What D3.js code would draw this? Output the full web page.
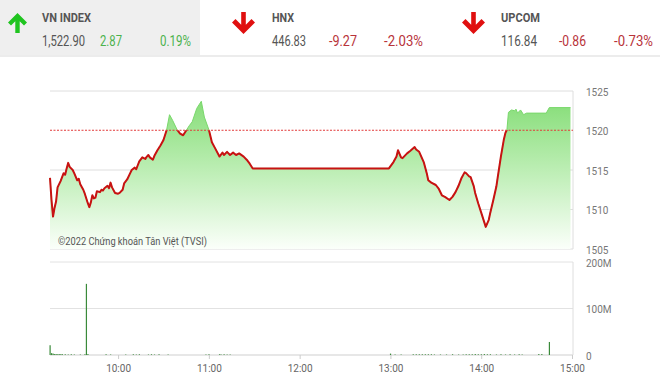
<!DOCTYPE html>
<html><head><meta charset="utf-8">
<script src="https://cdn.jsdelivr.net/npm/d3@7/dist/d3.min.js"></script>
<style>
html,body{margin:0;padding:0;background:#fff;}
svg{display:block;font-family:Roboto,"Noto Sans",sans-serif;}
</style></head>
<body><svg id="c" width="660" height="381"></svg>
<script>
// ---------------- data ----------------
const priceTimes = ["9:15","9:16","9:17","9:18","9:19","9:20","9:22","9:24","9:25","9:26","9:27","9:28","9:30","9:31","9:33","9:34","9:35","9:37","9:38","9:40","9:41","9:42","9:43","9:44","9:45","9:46","9:48","9:49","9:50","9:51","9:53","9:54","9:55","9:56","9:58","10:00","10:01","10:03","10:04","10:06","10:08","10:09","10:11","10:12","10:13","10:14","10:16","10:18","10:19","10:20","10:21","10:23","10:24","10:26","10:28","10:30","10:32","10:34","10:36","10:39","10:41","10:43","10:45","10:47","10:49","10:52","10:55","10:57","11:00","11:02","11:04","11:07","11:09","11:10","11:12","11:14","11:16","11:18","11:20","11:23","11:25","11:27","11:29","12:59","13:02","13:04","13:05","13:07","13:08","13:11","13:13","13:16","13:17","13:19","13:22","13:24","13:25","13:27","13:30","13:32","13:34","13:36","13:39","13:41","13:43","13:45","13:47","13:49","13:50","13:52","13:53","13:55","13:56","13:58","14:00","14:02","14:03","14:05","14:06","14:08","14:10","14:11","14:13","14:15","14:16","14:17","14:18","14:20","14:22","14:23","14:24","14:26","14:28","14:30","14:43","14:45","14:59"];
const priceValues = [1514.0,1511.2,1509.1,1510.2,1511.0,1512.8,1513.6,1514.6,1514.4,1515.2,1515.9,1515.4,1515.0,1514.6,1513.7,1513.9,1513.2,1512.5,1512.0,1510.8,1510.3,1510.9,1511.8,1511.4,1511.5,1512.3,1512.2,1512.5,1512.4,1512.7,1513.0,1512.7,1513.4,1512.8,1512.1,1512.0,1512.1,1512.5,1513.3,1513.8,1514.6,1515.0,1515.3,1515.1,1515.6,1516.1,1516.6,1516.4,1516.7,1516.9,1516.6,1516.3,1516.8,1517.5,1518.1,1518.8,1520.0,1522.0,1521.3,1520.1,1519.6,1519.4,1520.0,1520.6,1521.1,1522.8,1523.7,1521.7,1520.1,1518.5,1517.8,1516.7,1517.2,1516.9,1517.3,1516.9,1517.2,1516.9,1517.1,1516.7,1516.3,1515.8,1515.2,1515.2,1516.0,1516.7,1517.5,1516.6,1516.5,1517.1,1517.4,1517.9,1517.6,1517.3,1516.0,1514.6,1513.7,1513.4,1513.1,1512.6,1511.8,1511.6,1511.2,1511.6,1512.2,1513.0,1514.0,1514.7,1514.6,1514.2,1514.1,1513.0,1512.1,1510.8,1509.6,1508.4,1507.8,1508.7,1509.6,1511.2,1512.9,1514.2,1516.7,1518.9,1519.7,1520.1,1522.3,1522.6,1522.5,1522.7,1522.2,1522.6,1522.0,1522.2,1522.2,1522.9,1522.9];
const refValue = 1520.03;
const priceTicks = [1505,1510,1515,1520,1525];

const volTimes = ["9:15","9:16","9:17","9:18","9:19","9:20","9:21","9:22","9:23","9:25","9:27","9:29","9:31","9:35","9:38","9:39","9:40","9:52","9:55","10:05","10:10","10:12","10:14","10:20","10:22","10:24","10:27","10:33","10:58","11:00","11:07","11:08","11:10","11:12","11:14","13:00","13:03","13:07","13:15","13:17","13:19","13:21","13:23","13:25","13:27","13:29","13:33","13:37","13:41","13:45","13:48","13:50","13:52","13:54","13:56","13:58","14:00","14:02","14:04","14:06","14:10","14:13","14:16","14:19","14:22","14:25","14:27","14:38","14:40","14:45"];
const volValues = [21,4,3,2,2,1.5,2,1.5,2,1.5,1,1.5,1,1,1.5,153,2,1.5,1,1,1.5,1,1.5,1,1.5,1,1.5,1,1,1.5,1.5,1,1.5,1,1,3,1,1,1.5,1.5,1.5,1.5,1.5,1.5,1.5,1,1,1,1.5,1,1,1.5,1.5,1.5,2,1.5,1.5,2,1.5,1.5,1,1.5,1,1.5,1,1.5,1,2,2,28];
const volTicks = [0,100,200];
const volTickLabels = ["0","100M","200M"];
const timeTicks = ["10:00","11:00","12:00","13:00","14:00","15:00"];

const headerNames = ["VN INDEX","HNX","UPCOM"];
const headerValues = ["1,522.90","446.83","116.84"];
const headerChanges = ["2.87","-9.27","-0.86"];
const headerPcts = ["0.19%","-2.03%","-0.73%"];
const headerUp = [true,false,false];
const watermark = "©2022 Chứng khoán Tân Việt (TVSI)";

// ---------------- setup ----------------
const svg = d3.select("#c");
const parse = d3.timeParse("%H:%M");
const L = 50, R = 572;
const x = d3.scaleTime().domain([parse("9:15"), parse("15:00")]).range([L, R]);
const y = d3.scaleLinear().domain([1505,1525]).range([249,91]);
const yv = d3.scaleLinear().domain([0,200]).range([355,262]);

// ---------------- header ----------------
svg.append("rect").attr("x",0).attr("y",0).attr("width",200).attr("height",55).attr("fill","#efefef");
svg.append("rect").attr("x",0).attr("y",55).attr("width",660).attr("height",2).attr("fill","#ececec");

const hx = [
  {arrow:8, name:42, nameW:49, val:42, valW:43, chg:100, chgW:22, pct:160, pctW:31},
  {arrow:232, name:272, nameW:22, val:272, valW:34, chg:329, chgW:28, pct:384, pctW:39},
  {arrow:462, name:501, nameW:39, val:501, valW:36, chg:559, chgW:27, pct:614, pctW:39}
];
headerNames.forEach((n,i)=>{
  const p = hx[i];
  const up = headerUp[i];
  const ax = p.arrow, col = up ? "#1fc41f" : "#e01010";
  let path;
  if (up) {
    path = `M${ax+9.5},13 L${ax+19},22.5 L${ax+16},25.5 L${ax+11.7},21.2 L${ax+11.7},33 L${ax+7.3},33 L${ax+7.3},21.2 L${ax+3},25.5 L${ax},22.5 Z`;
  } else {
    path = `M${ax+11.5},34 L${ax+23},22.5 L${ax+19.5},19 L${ax+13.8},24.7 L${ax+13.8},12 L${ax+9.2},12 L${ax+9.2},24.7 L${ax+3.5},19 L${ax},22.5 Z`;
  }
  svg.append("path").attr("d",path).attr("fill",col);
  svg.append("text").attr("x",p.name).attr("y",22).attr("font-size",12.5).attr("font-weight","bold")
     .attr("fill","#555").attr("textLength",p.nameW).attr("lengthAdjust","spacingAndGlyphs").text(n);
  svg.append("text").attr("x",p.val).attr("y",46).attr("font-size",14)
     .attr("fill","#555").attr("textLength",p.valW).attr("lengthAdjust","spacingAndGlyphs").text(headerValues[i]);
  const cc = up ? "#4cb24c" : "#b8333a";
  svg.append("text").attr("x",p.chg).attr("y",46).attr("font-size",14)
     .attr("fill",cc).attr("textLength",p.chgW).attr("lengthAdjust","spacingAndGlyphs").text(headerChanges[i]);
  svg.append("text").attr("x",p.pct).attr("y",46).attr("font-size",14)
     .attr("fill",cc).attr("textLength",p.pctW).attr("lengthAdjust","spacingAndGlyphs").text(headerPcts[i]);
});

// ---------------- price chart ----------------
const defs = svg.append("defs");
const grad = defs.append("linearGradient").attr("id","g").attr("gradientUnits","userSpaceOnUse")
  .attr("x1",0).attr("x2",0).attr("y1",y(1525)).attr("y2",y(1505));
grad.append("stop").attr("offset",0).attr("stop-color","#7fdb70");
grad.append("stop").attr("offset",0.45).attr("stop-color","#b6ecad");
grad.append("stop").attr("offset",1).attr("stop-color","#fbfffa");

defs.append("clipPath").attr("id","below").append("rect")
  .attr("x",0).attr("y",y(refValue)).attr("width",660).attr("height",300);

// grid
const gridG = svg.append("g");
priceTicks.forEach(t=>{
  if (t===1520) return;
  gridG.append("line").attr("x1",L).attr("x2",573).attr("y1",y(t)).attr("y2",y(t))
    .attr("stroke","#dedede").attr("stroke-width",1);
});
gridG.append("line").attr("x1",573).attr("x2",573).attr("y1",y(1525)).attr("y2",y(1505))
  .attr("stroke","#dedede");

const pdata = priceTimes.map((t,i)=>({t:parse(t), v:priceValues[i]}));
const area = d3.area().x(d=>x(d.t)).y0(y(1505)).y1(d=>y(d.v));
svg.append("path").datum(pdata).attr("d",area).attr("fill","url(#g)");

const line = d3.line().x(d=>x(d.t)).y(d=>y(d.v));
svg.append("path").datum(pdata).attr("d",line).attr("fill","none")
  .attr("stroke","#79d86b").attr("stroke-width",1);
svg.append("path").datum(pdata).attr("d",line).attr("fill","none")
  .attr("stroke","#c81212").attr("stroke-width",2).attr("stroke-linejoin","round")
  .attr("clip-path","url(#below)");

// reference dashed line
svg.append("line").attr("x1",L).attr("x2",573).attr("y1",y(refValue)).attr("y2",y(refValue))
  .attr("stroke","#e23a3a").attr("stroke-width",1).attr("stroke-dasharray","2,1.5");

// y axis labels
const yAxis = d3.axisRight(y).tickValues(priceTicks).tickSize(0).tickPadding(0).tickFormat(d3.format("d"));
const ya = svg.append("g").attr("transform","translate(586,1)").call(yAxis);
ya.select(".domain").remove();
ya.selectAll("text").attr("font-size",10).attr("fill","#777").attr("font-family","Roboto,sans-serif");

// watermark
svg.append("text").attr("x",58).attr("y",245).attr("font-size",11.5).attr("fill","#555")
  .attr("textLength",149).attr("lengthAdjust","spacingAndGlyphs").text(watermark);

// ---------------- volume chart ----------------
volTicks.forEach(t=>{
  svg.append("line").attr("x1",L).attr("x2",573).attr("y1",yv(t)).attr("y2",yv(t))
    .attr("stroke", t===0 ? "#cfcfcf" : "#e2e2e2");
});
svg.append("line").attr("x1",573).attr("x2",573).attr("y1",yv(200)).attr("y2",yv(0)).attr("stroke","#dedede");

const vdata = volTimes.map((t,i)=>({t:parse(t), v:volValues[i]}));
svg.append("g").selectAll("rect").data(vdata).join("rect")
  .attr("x",d=>x(d.t)-0.5).attr("width",1.2)
  .attr("y",d=>yv(d.v)).attr("height",d=>yv(0)-yv(d.v))
  .attr("fill","#3a8a3a");

const vAxis = d3.axisRight(yv).tickValues(volTicks).tickSize(0).tickPadding(0)
  .tickFormat((d,i)=>volTickLabels[i]);
const va = svg.append("g").attr("transform","translate(586,1)").call(vAxis);
va.select(".domain").remove();
va.selectAll("text").attr("font-size",10).attr("fill","#777").attr("font-family","Roboto,sans-serif");

// time axis
const xAxis = d3.axisBottom(x).tickValues(timeTicks.map(parse)).tickSize(4).tickPadding(6)
  .tickFormat(d3.timeFormat("%H:%M"));
const xa = svg.append("g").attr("transform",`translate(0,${yv(0)})`).call(xAxis);
xa.select(".domain").remove();
xa.selectAll("line").attr("stroke","#ccc");
xa.selectAll("text").attr("font-size",10).attr("fill","#666").attr("font-family","Roboto,sans-serif");
</script></body></html>
